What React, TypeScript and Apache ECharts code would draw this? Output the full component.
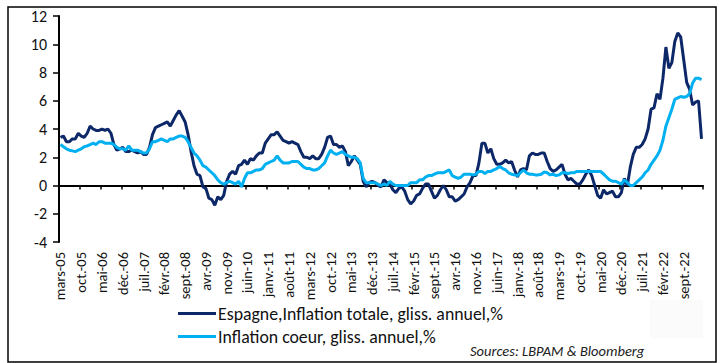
import React, { useEffect, useRef } from "react";
import * as echarts from "echarts";

// Month abbreviations (French Excel style) used for the category labels
const monthNames = ["janv.", "févr.", "mars", "avr.", "mai", "juin", "juil.", "août", "sept.", "oct.", "nov.", "déc."];
const firstYear = 2005;
const firstMonthIndex = 2; // mars
const lastYear = 2023;
const lastMonthIndex = 2; // mars

// Espagne, inflation totale, gliss. annuel, % (from mars-05)
const h2005 = [3.4, 3.5, 3.1, 3.1, 3.3, 3.3, 3.7, 3.5, 3.4, 3.7];
const h2006 = [4.2, 4.0, 3.9, 3.9, 4.0, 3.9, 4.0, 3.7, 2.9, 2.5, 2.6, 2.7];
const h2007 = [2.4, 2.4, 2.5, 2.4, 2.3, 2.4, 2.2, 2.2, 2.7, 3.6, 4.1, 4.2];
const h2008 = [4.3, 4.4, 4.5, 4.2, 4.6, 5.0, 5.3, 4.9, 4.5, 3.6, 2.4, 1.4];
const h2009 = [0.8, 0.7, -0.1, -0.2, -0.9, -1.0, -1.4, -0.8, -1.0, -0.7, 0.3, 0.8];
const h2010 = [1.0, 0.8, 1.4, 1.5, 1.8, 1.5, 1.9, 1.8, 2.1, 2.3, 2.3, 3.0];
const h2011 = [3.3, 3.6, 3.6, 3.8, 3.5, 3.2, 3.1, 3.0, 3.1, 3.0, 2.9, 2.4];
const h2012 = [2.0, 2.0, 1.9, 2.1, 1.9, 1.9, 2.2, 2.7, 3.4, 3.5, 2.9, 2.9];
const h2013 = [2.7, 2.8, 2.4, 1.4, 1.7, 2.1, 1.8, 1.5, 0.3, -0.1, 0.2, 0.3];
const h2014 = [0.2, 0.0, -0.1, 0.4, 0.2, 0.1, -0.3, -0.5, -0.2, -0.1, -0.4, -1.0];
const h2015 = [-1.3, -1.1, -0.7, -0.6, -0.2, 0.1, 0.1, -0.4, -0.9, -0.7, -0.3, 0.0];
const h2016 = [-0.3, -0.8, -0.8, -1.1, -1.0, -0.8, -0.6, -0.1, 0.2, 0.7, 0.7, 1.6];
const h2017 = [3.0, 3.0, 2.3, 2.6, 1.9, 1.5, 1.5, 1.6, 1.8, 1.6, 1.7, 1.1];
const h2018 = [0.6, 1.1, 1.2, 1.1, 2.1, 2.3, 2.2, 2.2, 2.3, 2.3, 1.7, 1.2];
const h2019 = [1.0, 1.1, 1.3, 1.5, 0.8, 0.4, 0.5, 0.3, 0.1, 0.1, 0.4, 0.8];
const h2020 = [1.1, 0.7, 0.0, -0.7, -0.9, -0.3, -0.6, -0.5, -0.4, -0.8, -0.8, -0.5];
const h2021 = [0.5, 0.0, 1.3, 2.2, 2.7, 2.7, 2.9, 3.3, 4.0, 5.4, 5.5, 6.5];
const h2022 = [6.1, 7.6, 9.8, 8.3, 8.7, 10.2, 10.8, 10.5, 8.9, 7.3, 6.8, 5.7];
const h2023 = [5.9, 6.0, 3.3];

// Inflation coeur, gliss. annuel, % (from mars-05)
const c2005 = [2.9, 2.75, 2.6, 2.5, 2.45, 2.4, 2.5, 2.6, 2.75, 2.8];
const c2006 = [2.9, 3.0, 2.9, 3.1, 3.1, 3.0, 3.0, 3.0, 2.9, 2.7, 2.6, 2.6];
const c2007 = [2.5, 2.8, 2.5, 2.5, 2.5, 2.4, 2.3, 2.3, 2.6, 3.1, 3.1, 3.2];
const c2008 = [3.3, 3.2, 3.1, 3.3, 3.3, 3.4, 3.5, 3.5, 3.4, 3.1, 2.7, 2.3];
const c2009 = [2.1, 1.8, 1.4, 1.3, 1.1, 0.9, 0.7, 0.4, 0.2, 0.1, 0.2, 0.3];
const c2010 = [0.2, 0.1, 0.3, -0.1, 0.5, 0.9, 0.9, 1.0, 1.1, 1.1, 1.2, 1.5];
const c2011 = [1.6, 1.7, 1.8, 2.1, 1.8, 1.6, 1.6, 1.6, 1.7, 1.7, 1.7, 1.5];
const c2012 = [1.3, 1.2, 1.2, 1.1, 1.1, 1.2, 1.4, 1.6, 2.1, 2.5, 2.3, 2.2];
const c2013 = [2.3, 2.4, 2.2, 2.1, 2.0, 2.0, 1.9, 1.6, 0.5, 0.2, 0.2, 0.2];
const c2014 = [0.2, 0.1, 0.0, 0.1, 0.0, 0.3, 0.1, 0.0, 0.0, 0.0, 0.0, 0.0];
const c2015 = [0.2, 0.2, 0.2, 0.4, 0.4, 0.6, 0.7, 0.7, 0.8, 0.9, 0.9, 0.9];
const c2016 = [1.0, 1.1, 0.7, 0.6, 0.5, 0.6, 0.8, 0.8, 0.8, 0.75, 0.8, 1.0];
const c2017 = [1.0, 0.85, 1.0, 1.0, 1.1, 1.2, 1.35, 1.2, 1.1, 0.9, 0.8, 0.75];
const c2018 = [0.7, 0.9, 1.1, 0.9, 0.8, 0.8, 0.75, 0.75, 0.8, 0.95, 0.9, 0.75];
const c2019 = [0.8, 0.7, 0.75, 0.9, 0.9, 0.85, 0.9, 0.9, 1.0, 1.0, 1.0, 1.0];
const c2020 = [1.0, 1.0, 1.0, 1.0, 1.0, 0.8, 0.6, 0.4, 0.3, 0.3, 0.2, 0.1];
const c2021 = [0.4, 0.2, 0.0, 0.0, 0.2, 0.4, 0.6, 0.9, 1.1, 1.5, 1.8, 2.1];
const c2022 = [2.5, 3.2, 4.2, 4.8, 5.4, 6.1, 6.2, 6.3, 6.25, 6.3, 6.5, 7.25];
const c2023 = [7.6, 7.6, 7.5];

const headline = [
  ...h2005, ...h2006, ...h2007, ...h2008, ...h2009, ...h2010, ...h2011, ...h2012, ...h2013,
  ...h2014, ...h2015, ...h2016, ...h2017, ...h2018, ...h2019, ...h2020, ...h2021, ...h2022, ...h2023,
];
const core = [
  ...c2005, ...c2006, ...c2007, ...c2008, ...c2009, ...c2010, ...c2011, ...c2012, ...c2013,
  ...c2014, ...c2015, ...c2016, ...c2017, ...c2018, ...c2019, ...c2020, ...c2021, ...c2022, ...c2023,
];

const categories: string[] = [];
for (let y = firstYear; y <= lastYear; y++) {
  const m0 = y === firstYear ? firstMonthIndex : 0;
  const m1 = y === lastYear ? lastMonthIndex : 11;
  for (let m = m0; m <= m1; m++) {
    categories.push(monthNames[m] + "-" + String(y % 100).padStart(2, "0"));
  }
}

const seriesNames = ["Espagne,Inflation totale, gliss. annuel,%", "Inflation coeur, gliss. annuel,%"];
const sourceText = "Sources: LBPAM & Bloomberg";

const FONT = "Carlito, Calibri, Lato, 'Open Sans', sans-serif";

export default function App() {
  const ref = useRef<HTMLDivElement>(null);
  useEffect(() => {
    if (!ref.current) return;
    const chart = echarts.init(ref.current, undefined, { renderer: "svg" });
    chart.setOption({
      animation: false,
      backgroundColor: "#ffffff",
      textStyle: { fontFamily: FONT },
      grid: { left: 59, right: 18, top: 16, bottom: 121, containLabel: false },
      legend: {
        orient: "vertical",
        left: 173,
        top: 298,
        itemWidth: 38,
        itemHeight: 3,
        itemGap: 2,
        icon: "rect",
        padding: 5,
        textStyle: { fontSize: 17.8, color: "#111", fontFamily: FONT, padding: [0, 0, 0, -3], lineHeight: 21 },
        data: seriesNames,
      },
      xAxis: [
        {
          type: "category",
          data: categories,
          boundaryGap: true,
          axisLine: { show: true, onZero: true, lineStyle: { color: "#000", width: 2 } },
          axisTick: { show: true, interval: 6, length: 4, lineStyle: { color: "#000", width: 1.5 } },
          axisLabel: { show: false },
          splitLine: { show: false },
        },
        {
          type: "category",
          data: categories,
          position: "bottom",
          boundaryGap: true,
          axisLine: { show: false, onZero: false },
          axisTick: { show: false },
          axisLabel: {
            interval: 6,
            rotate: 90,
            fontSize: 14.5,
            color: "#111",
            margin: 10,
            fontFamily: FONT,
          },
          splitLine: { show: false },
        },
      ],
      yAxis: {
        type: "value",
        min: -4,
        max: 12,
        interval: 2,
        axisLine: { show: true, lineStyle: { color: "#000", width: 2 } },
        axisTick: { show: true, length: 6, lineStyle: { color: "#000", width: 1.5 } },
        axisLabel: { fontSize: 16, color: "#111", margin: 12, fontFamily: FONT },
        splitLine: { show: false },
      },
      series: [
        {
          name: seriesNames[0],
          type: "line",
          xAxisIndex: 0,
          data: headline,
          showSymbol: false,
          symbol: "none",
          lineStyle: { color: "#0d2868", width: 3 },
          itemStyle: { color: "#0d2868" },
        },
        {
          name: seriesNames[1],
          type: "line",
          xAxisIndex: 0,
          data: core,
          showSymbol: false,
          symbol: "none",
          lineStyle: { color: "#00b0f0", width: 3 },
          itemStyle: { color: "#00b0f0" },
        },
      ],
      graphic: [
        {
          type: "rect",
          left: 650,
          top: 300,
          shape: { width: 53, height: 38 },
          style: { fill: "#fbfbfb" },
          silent: true,
        },
        {
          type: "text",
          left: 470,
          top: 343,
          style: {
            text: sourceText,
            fontSize: 14.5,
            fontStyle: "italic",
            fill: "#222",
            fontFamily: FONT,
          },
        },
        {
          type: "rect",
          left: 5.5,
          top: 4.5,
          shape: { width: 708, height: 355 },
          style: { fill: "none", stroke: "#000", lineWidth: 1.5 },
          silent: true,
        },
      ],
    });
    return () => chart.dispose();
  }, []);
  return (
    <div
      ref={ref}
      style={{ position: "fixed", left: 0, top: 0, width: 721, height: 363, background: "#fff" }}
    />
  );
}
